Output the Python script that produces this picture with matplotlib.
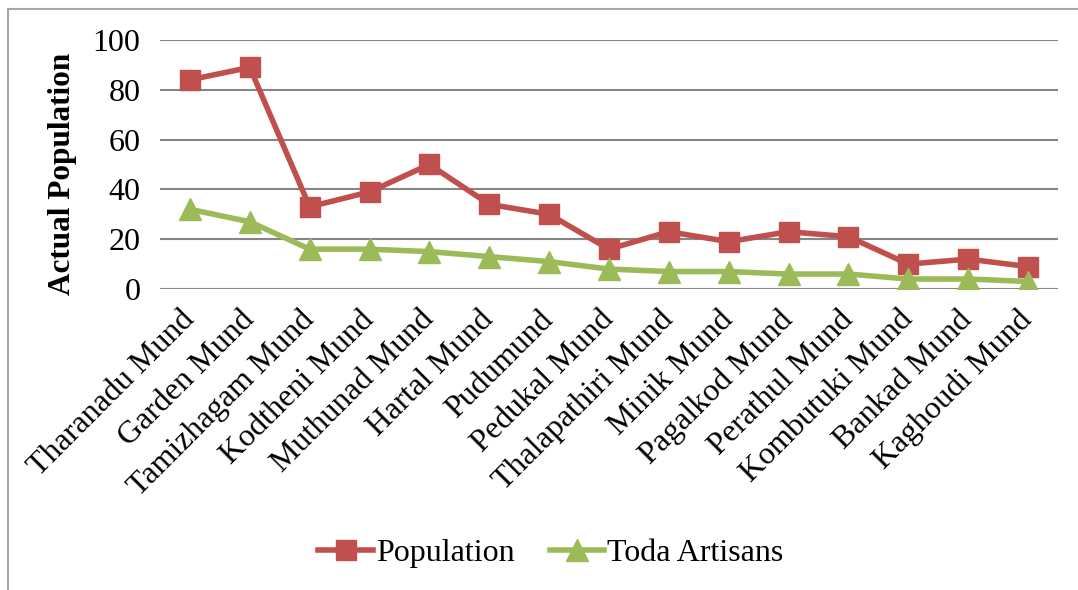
import matplotlib.pyplot as plt
from matplotlib.patches import Rectangle

# data per mund
munds = ['Tharanadu Mund', 'Garden Mund', 'Tamizhagam Mund', 'Kodtheni Mund',
         'Muthunad Mund', 'Hartal Mund', 'Pudumund', 'Pedukal Mund',
         'Thalapathiri Mund', 'Minik Mund', 'Pagalkod Mund', 'Perathul Mund',
         'Kombutuki Mund', 'Bankad Mund', 'Kaghoudi Mund']
population = [84, 89, 33, 39, 50, 34, 30, 16, 23, 19, 23, 21, 10, 12, 9]
artisans = [32, 27, 16, 16, 15, 13, 11, 8, 7, 7, 6, 6, 4, 4, 3]
yticks = [0, 20, 40, 60, 80, 100]

plt.rcParams['font.family'] = ['Liberation Serif', 'DejaVu Serif']

fig = plt.figure(figsize=(10.78, 5.9), dpi=100)
ax = fig.add_axes([0.1484, 0.5102, 0.833, 0.422])

x = list(range(len(munds)))
ax.plot(x, population, color='#C0504D', lw=4, marker='s', ms=15,
        label='Population', zorder=3)
ax.plot(x, artisans, color='#9BBB59', lw=4, marker='^', ms=16,
        label='Toda Artisans', zorder=3)

ax.set_xlim(-0.5, len(munds) - 0.5)
ax.set_ylim(0, 100)
ax.set_yticks(yticks)
ax.set_yticklabels([str(t) for t in yticks], fontsize=23)
ax.set_xticks(x)
ax.set_xticklabels(munds, rotation=45, ha='right', va='center',
                   rotation_mode='anchor', fontsize=23)
ax.tick_params(length=0)
ax.tick_params(axis='x', pad=19)
ax.tick_params(axis='y', pad=14)
ax.grid(axis='y', color='#868686', lw=1.5)
ax.set_axisbelow(True)
for s in ax.spines.values():
    s.set_visible(False)

fig.text(0.058, 0.706, 'Actual Population', rotation=90, ha='center',
         va='center', fontsize=22.5, fontweight='bold')

fig.legend(loc='center', bbox_to_anchor=(0.511, 1 - 553 / 590), ncol=2,
           frameon=False, fontsize=23, handlelength=1.7, handletextpad=0.1,
           columnspacing=1.1)

# outer chart border
fig.patches.append(Rectangle((8 / 1078, -0.1), 1.1, 1.1 - 9 / 590,
                             transform=fig.transFigure, fill=False,
                             edgecolor='#a6a6a6', lw=1.5))

fig.savefig('out.png', dpi=100)
